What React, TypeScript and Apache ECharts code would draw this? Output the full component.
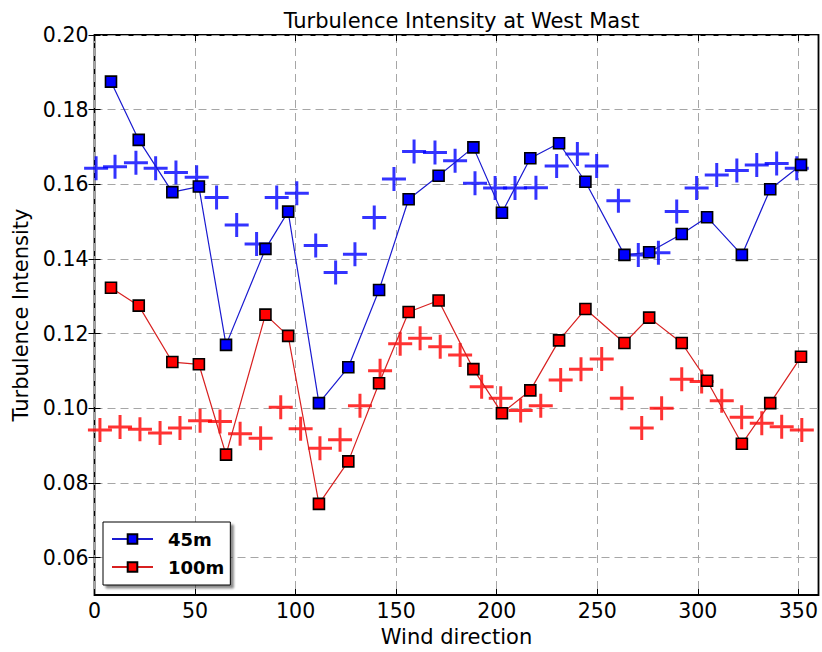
import React, { useEffect, useRef } from "react";
import * as echarts from "echarts";

const FONT = "DejaVu Sans";

// Square-marker series (binned means) — wind direction (deg)
const sqDeg = [8.2, 22.0, 38.7, 51.9, 65.4, 85.0, 96.3, 111.6, 126.2, 141.5, 156.2, 171.1, 188.4, 202.6, 216.7, 231.0, 244.1, 263.5, 275.8, 292.0, 304.6, 321.9, 336.0, 351.3];
const ti45 = [0.1875, 0.1719, 0.1579, 0.1594, 0.1170, 0.1427, 0.1527, 0.1014, 0.1110, 0.1317, 0.1560, 0.1623, 0.1699, 0.1524, 0.1670, 0.1710, 0.1607, 0.1411, 0.1418, 0.1467, 0.1512, 0.1411, 0.1587, 0.1652];
const ti100 = [0.1323, 0.1275, 0.1124, 0.1118, 0.0876, 0.1251, 0.1194, 0.0744, 0.0858, 0.1067, 0.1258, 0.1289, 0.1105, 0.0987, 0.1048, 0.1182, 0.1266, 0.1175, 0.1243, 0.1175, 0.1074, 0.0905, 0.1014, 0.1138];

// Plus-marker series
const plus45Deg = [0.8, 10.2, 20.6, 30.4, 40.5, 50.8, 60.7, 70.7, 80.6, 90.6, 100.6, 110.0, 119.9, 129.5, 139.1, 148.9, 158.9, 169.3, 179.3, 189.2, 199.2, 209.1, 219.5, 229.8, 240.1, 249.7, 260.5, 270.4, 280.4, 289.5, 299.4, 309.4, 319.4, 329.3, 339.2, 349.2];
const plus45 = [0.1643, 0.1647, 0.1658, 0.1643, 0.1632, 0.1619, 0.1565, 0.1491, 0.1440, 0.1565, 0.1576, 0.1436, 0.1364, 0.1413, 0.1511, 0.1614, 0.1688, 0.1685, 0.1663, 0.1603, 0.1590, 0.1590, 0.1591, 0.1649, 0.1681, 0.1649, 0.1556, 0.1411, 0.1417, 0.1527, 0.1590, 0.1625, 0.1637, 0.1652, 0.1656, 0.1643];
const plus100Deg = [2.7, 12.7, 22.6, 32.6, 42.5, 52.5, 62.4, 72.4, 82.6, 92.6, 102.5, 112.1, 122.1, 132.0, 142.0, 152.0, 161.9, 171.9, 181.8, 192.5, 202.0, 211.9, 221.9, 231.8, 241.9, 252.2, 262.2, 272.1, 282.0, 292.0, 301.9, 311.9, 321.8, 331.8, 341.7, 351.7];
const plus100 = [0.0942, 0.0950, 0.0944, 0.0934, 0.0947, 0.0967, 0.0965, 0.0932, 0.0920, 0.1003, 0.0945, 0.0893, 0.0916, 0.1007, 0.1101, 0.1173, 0.1188, 0.1165, 0.1143, 0.1058, 0.1027, 0.0994, 0.1007, 0.1076, 0.1105, 0.1132, 0.1027, 0.0947, 0.1000, 0.1078, 0.1072, 0.1020, 0.0976, 0.0960, 0.0951, 0.0942];

// Tick values
const xTicks = [0, 50, 100, 150, 200, 250, 300, 350];
const yTicks = [0.06, 0.08, 0.10, 0.12, 0.14, 0.16, 0.18, 0.20];

const BLUE = "#0000ff";
const RED = "#ff0000";
const PLUS = "path://M10.5,0 H13.5 V10.5 H24 V13.5 H13.5 V24 H10.5 V13.5 H0 V10.5 H10.5 Z";

const zip = (xs: number[], ys: number[]) => xs.map((x, i) => [x, ys[i]]);

export default function App() {
  const ref = useRef<HTMLDivElement>(null);
  useEffect(() => {
    const chart = echarts.init(ref.current!, null, { renderer: "svg" });
    const gridLine = { show: true, lineStyle: { color: "#a6a6a6", width: 1, type: [8, 5] } };
    const tick = { show: true, inside: true, length: 6, lineStyle: { color: "#000", width: 1 } };
    chart.setOption({
      animation: false,
      backgroundColor: "#fff",
      title: {
        text: "Turbulence Intensity at West Mast",
        left: 456.5,
        top: 5,
        textAlign: "center",
        textStyle: { fontFamily: FONT, fontSize: 21, fontWeight: "normal", color: "#000" },
      },
      grid: {
        left: 94.5,
        top: 35,
        right: 3.5,
        bottom: 56,
        show: true,
        borderColor: "#000",
        borderWidth: 1.8,
        backgroundColor: "#fff",
      },
      legend: {
        data: ["45m", "100m"],
        orient: "vertical",
        left: 103,
        top: 522,
        padding: [8, 6, 9, 8],
        itemGap: 10,
        itemWidth: 41,
        itemHeight: 12,
        backgroundColor: "#fff",
        borderColor: "#000",
        borderWidth: 1,
        shadowColor: "rgba(0,0,0,0.45)",
        shadowBlur: 2,
        shadowOffsetX: 3,
        shadowOffsetY: 3,
        textStyle: { fontFamily: FONT, fontSize: 18, fontWeight: "bold", color: "#000", padding: [0, 0, 0, 10] },
      },
      xAxis: [
        {
          type: "value",
          min: 0,
          max: 360,
          interval: 50,
          name: "Wind direction",
          nameLocation: "middle",
          nameGap: 31,
          nameTextStyle: { fontFamily: FONT, fontSize: 21, color: "#000" },
          axisLine: { show: false },
          axisTick: { ...tick, customValues: xTicks },
          axisLabel: { customValues: xTicks, fontFamily: FONT, fontSize: 20.5, color: "#000", margin: 5 },
          splitLine: gridLine,
        },
        {
          type: "value",
          position: "top",
          min: 0,
          max: 360,
          interval: 50,
          axisLine: { show: false },
          axisTick: { ...tick, customValues: xTicks },
          axisLabel: { show: false },
          splitLine: { show: false },
        },
      ],
      yAxis: [
        {
          type: "value",
          min: 0.05,
          max: 0.2,
          splitNumber: 8,
          name: "Turbulence Intensity",
          nameLocation: "middle",
          nameGap: 63,
          nameRotate: 90,
          nameTextStyle: { fontFamily: FONT, fontSize: 21, color: "#000" },
          axisLine: { show: false },
          axisTick: { ...tick, customValues: yTicks },
          axisLabel: {
            customValues: yTicks,
            formatter: (v: number) => v.toFixed(2),
            fontFamily: FONT,
            fontSize: 20.5,
            color: "#000",
            margin: 6,
          },
          splitLine: gridLine,
        },
        {
          type: "value",
          position: "right",
          min: 0.05,
          max: 0.2,
          splitNumber: 8,
          axisLine: { show: false },
          axisTick: { ...tick, customValues: yTicks },
          axisLabel: { show: false },
          splitLine: { show: false },
        },
      ],
      series: [
        {
          name: "45m+",
          type: "scatter",
          data: zip(plus45Deg, plus45),
          symbol: PLUS,
          symbolSize: 24,
          itemStyle: { color: BLUE },
          z: 2,
        },
        {
          name: "100m+",
          type: "scatter",
          data: zip(plus100Deg, plus100),
          symbol: PLUS,
          symbolSize: 24,
          itemStyle: { color: RED },
          z: 2,
        },
        {
          name: "45m",
          type: "line",
          data: zip(sqDeg, ti45),
          symbol: "rect",
          symbolSize: 11,
          showAllSymbol: true,
          itemStyle: { color: BLUE, borderColor: "#000", borderWidth: 1.6 },
          lineStyle: { color: "#1a1ad0", width: 1.2 },
          z: 3,
        },
        {
          name: "100m",
          type: "line",
          data: zip(sqDeg, ti100),
          symbol: "rect",
          symbolSize: 11,
          showAllSymbol: true,
          itemStyle: { color: RED, borderColor: "#000", borderWidth: 1.6 },
          lineStyle: { color: "#d82020", width: 1.2 },
          z: 3,
        },
      ],
    });
    return () => chart.dispose();
  }, []);
  return (
    <div
      ref={ref}
      style={{ position: "fixed", left: 0, top: 0, width: 822, height: 652, background: "#fff" }}
    />
  );
}
